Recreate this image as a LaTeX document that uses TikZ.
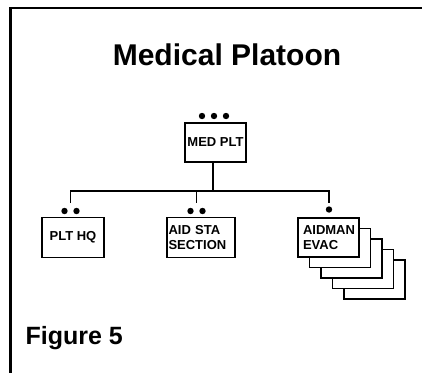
\documentclass[tikz,border=0pt]{standalone}
\usepackage{fontspec}
\setmainfont{Liberation Sans}
\begin{document}
\begin{tikzpicture}[x=1pt,y=-1pt,
  unitbox/.style={draw,line width=1.6pt,fill=white,inner sep=0pt,
    minimum height=40pt,font=\fontsize{13}{14.5}\selectfont\bfseries},
  conn/.style={line width=1.4pt},
  rankdot/.style={fill=black},
  frameline/.style={line width=2.8pt}]
  \useasboundingbox (0,0) rectangle (422,373);

  % page frame
  \draw[frameline] (422,8) -- (10.5,8) -- (10.5,373);

  % headings
  \node[anchor=base,font=\fontsize{30}{34}\selectfont\bfseries] (title) at (227,65) {Medical Platoon};
  \node[anchor=base west,font=\fontsize{25}{28}\selectfont\bfseries] (fig) at (22,344) {Figure 5};

  % platoon headquarters box
  \node[unitbox,minimum width=61pt,minimum height=39pt] (med) at (215.5,142.5) {MED PLT};
  \foreach \x in {202,214,226} \fill[rankdot] (\x,116) circle (3.2);

  % subordinate elements
  \node[unitbox,minimum width=62pt] (hq) at (73,237.5) {PLT HQ};
  \node[unitbox,minimum width=68pt,text width=65pt,align=left] (aid) at (201,237.5) {AID STA\\SECTION};

  % stacked aidman/evac teams, back to front
  \foreach \i in {4,3,2,1}
    \draw[line width=1.6pt,fill=white] (298+11.5*\i,218+10.5*\i) rectangle ++(61,39);
  \node[unitbox,minimum width=61pt,minimum height=39pt,text width=51pt,align=left] (evac) at (328.5,237.5) {AIDMAN\\EVAC};

  % echelon markers
  \foreach \x in {64.5,76.5} \fill[rankdot] (\x,211) circle (3.2);
  \foreach \x in {190.5,202.5} \fill[rankdot] (\x,211) circle (3.2);
  \fill[rankdot] (329,209.5) circle (3.2);

  % connectors
  \coordinate (bar) at (213,191);
  \coordinate (hqr) at (70.5,203);
  \coordinate (aidr) at (196.5,203);
  \coordinate (evr) at (329,203);
  \draw[conn] (med.south -| bar) -- (bar);
  \draw[conn] (hqr) |- (bar) -| (evr);
  \draw[conn] (aidr |- bar) -- (aidr);
\end{tikzpicture}
\end{document}
